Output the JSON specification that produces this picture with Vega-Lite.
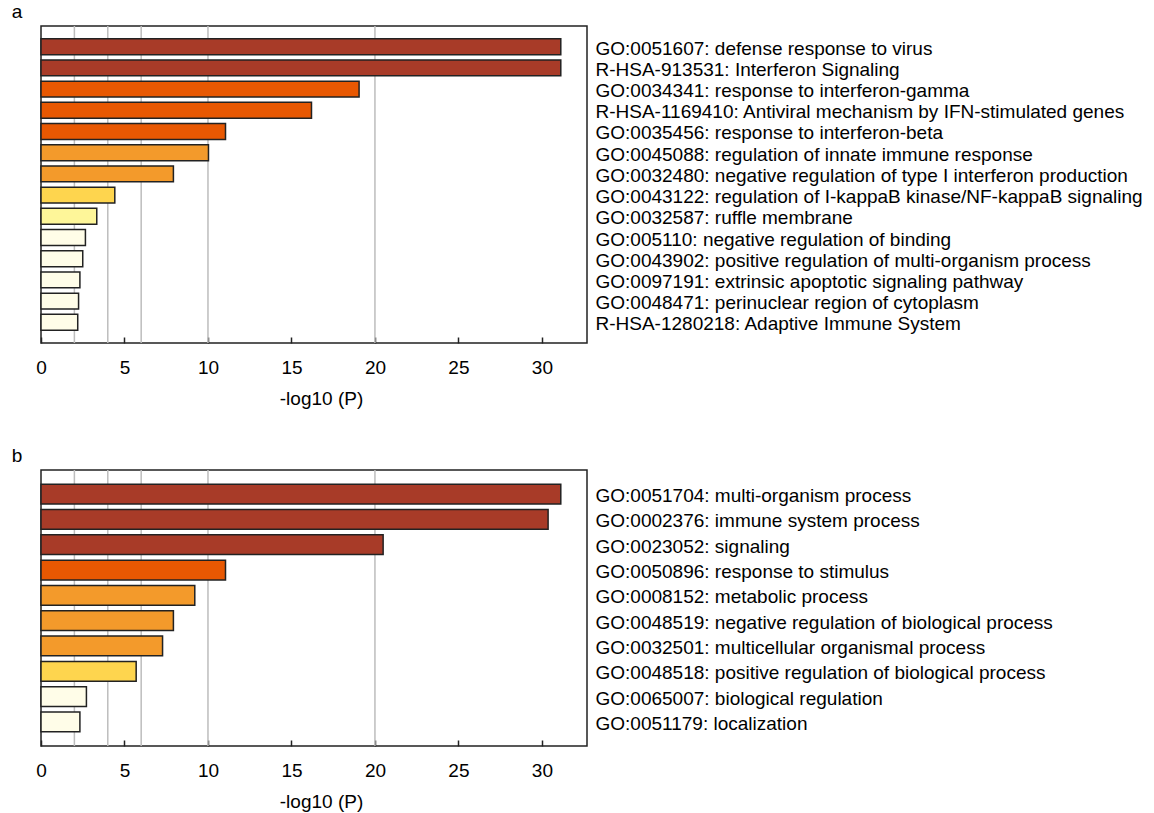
{
  "$schema": "https://vega.github.io/schema/vega-lite/v6.json",
  "padding": {"left": 10, "top": 2, "right": 5, "bottom": 0},
  "background": "white",
  "spacing": 37,
  "datasets": {
    "grid": [{"g": 2}, {"g": 4}, {"g": 6}, {"g": 10}, {"g": 20}],
    "a": [
      {"term": "GO:0051607: defense response to virus", "p": 31.13, "tier": "t1"},
      {"term": "R-HSA-913531: Interferon Signaling", "p": 31.13, "tier": "t1"},
      {"term": "GO:0034341: response to interferon-gamma", "p": 19.05, "tier": "t2"},
      {"term": "R-HSA-1169410: Antiviral mechanism by IFN-stimulated genes", "p": 16.2, "tier": "t2"},
      {"term": "GO:0035456: response to interferon-beta", "p": 11.05, "tier": "t2"},
      {"term": "GO:0045088: regulation of innate immune response", "p": 10.03, "tier": "t3"},
      {"term": "GO:0032480: negative regulation of type I interferon production", "p": 7.93, "tier": "t3"},
      {"term": "GO:0043122: regulation of I-kappaB kinase/NF-kappaB signaling", "p": 4.42, "tier": "t4"},
      {"term": "GO:0032587: ruffle membrane", "p": 3.34, "tier": "t5"},
      {"term": "GO:005110: negative regulation of binding", "p": 2.66, "tier": "t6"},
      {"term": "GO:0043902: positive regulation of multi-organism process", "p": 2.5, "tier": "t6"},
      {"term": "GO:0097191: extrinsic apoptotic signaling pathway", "p": 2.33, "tier": "t6"},
      {"term": "GO:0048471: perinuclear region of cytoplasm", "p": 2.25, "tier": "t6"},
      {"term": "R-HSA-1280218: Adaptive Immune System", "p": 2.2, "tier": "t6"}
    ],
    "b": [
      {"term": "GO:0051704: multi-organism process", "p": 31.13, "tier": "t1"},
      {"term": "GO:0002376: immune system process", "p": 30.37, "tier": "t1"},
      {"term": "GO:0023052: signaling", "p": 20.49, "tier": "t1"},
      {"term": "GO:0050896: response to stimulus", "p": 11.05, "tier": "t2"},
      {"term": "GO:0008152: metabolic process", "p": 9.21, "tier": "t3"},
      {"term": "GO:0048519: negative regulation of biological process", "p": 7.93, "tier": "t3"},
      {"term": "GO:0032501: multicellular organismal process", "p": 7.28, "tier": "t3"},
      {"term": "GO:0048518: positive regulation of biological process", "p": 5.7, "tier": "t4"},
      {"term": "GO:0065007: biological regulation", "p": 2.72, "tier": "t6"},
      {"term": "GO:0051179: localization", "p": 2.33, "tier": "t6"}
    ]
  },
  "vconcat": [
    {
      "title": {"text": "a", "anchor": "start", "dx": -24, "offset": 3},
      "width": 546,
      "height": 317,
      "layer": [
        {
          "data": {"name": "grid"},
          "mark": {"type": "rule", "color": "#bdbdbd", "strokeWidth": 1.5},
          "encoding": {"x": {"field": "g", "type": "quantitative", "scale": {"domain": [0, 32.7], "nice": false}}}
        },
        {
          "data": {"name": "a"},
          "mark": {"type": "bar", "stroke": "#222", "strokeWidth": 1.5},
          "encoding": {
            "y": {"field": "term", "type": "nominal", "sort": null, "scale": {"paddingInner": 0.25, "paddingOuter": 0.6}, "axis": {"orient": "right", "title": null}},
            "x": {"field": "p", "type": "quantitative", "scale": {"domain": [0, 32.7], "nice": false}, "axis": {"title": "-log10 (P)", "titleX": 280, "values": [0, 5, 10, 15, 20, 25, 30]}},
            "color": {"field": "tier", "type": "nominal", "legend": null, "scale": {"domain": ["t1", "t2", "t3", "t4", "t5", "t6"], "range": ["#a83b28", "#e85802", "#f39a2b", "#fed54e", "#fef699", "#fffde8"]}}
          }
        }
      ]
    },
    {
      "title": {"text": "b", "anchor": "start", "dx": -24, "offset": 3},
      "width": 546,
      "height": 276,
      "layer": [
        {
          "data": {"name": "grid"},
          "mark": {"type": "rule", "color": "#bdbdbd", "strokeWidth": 1.5},
          "encoding": {"x": {"field": "g", "type": "quantitative", "scale": {"domain": [0, 32.7], "nice": false}}}
        },
        {
          "data": {"name": "b"},
          "mark": {"type": "bar", "stroke": "#222", "strokeWidth": 1.5},
          "encoding": {
            "y": {"field": "term", "type": "nominal", "sort": null, "scale": {"paddingInner": 0.22, "paddingOuter": 0.56}, "axis": {"orient": "right", "title": null}},
            "x": {"field": "p", "type": "quantitative", "scale": {"domain": [0, 32.7], "nice": false}, "axis": {"title": "-log10 (P)", "titleX": 280, "values": [0, 5, 10, 15, 20, 25, 30]}},
            "color": {"field": "tier", "type": "nominal", "legend": null, "scale": {"domain": ["t1", "t2", "t3", "t4", "t5", "t6"], "range": ["#a83b28", "#e85802", "#f39a2b", "#fed54e", "#fef699", "#fffde8"]}}
          }
        }
      ]
    }
  ],
  "config": {
    "font": "Liberation Sans",
    "view": {"stroke": "#222", "strokeWidth": 1.5},
    "title": {"fontSize": 19, "fontWeight": "normal", "color": "#000", "font": "Liberation Sans"},
    "axisX": {
      "grid": false,
      "domain": false,
      "tickSize": -6,
      "tickColor": "#222",
      "tickWidth": 1.5,
      "labelFlush": false,
      "labelFontSize": 19,
      "labelColor": "#000",
      "labelPadding": 21,
      "titleFontSize": 19,
      "titleFontWeight": "normal",
      "titleColor": "#000",
      "titlePadding": 12
    },
    "axisY": {
      "grid": false,
      "domain": false,
      "ticks": false,
      "labelFontSize": 19,
      "labelColor": "#000",
      "labelPadding": 8,
      "labelLimit": 0,
      "labelBaseline": "alphabetic",
      "labelOffset": 8
    }
  }
}
